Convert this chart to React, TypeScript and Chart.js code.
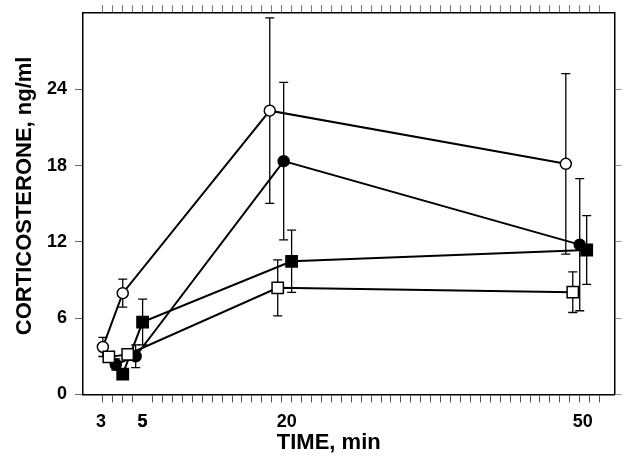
import React, { useEffect, useRef } from 'react';
import { Chart, registerables } from 'chart.js';

Chart.register(...registerables);

// time (min) of each plotted point, as placed in the figure (series are staggered)
const timeOpenCircle = [2.0, 4.0, 18.8, 48.6];
const openCircle = [3.74, 7.97, 22.33, 18.15];
const openCircleErr = [0.75, 1.1, 7.3, 7.1];

const timeFilledCircle = [3.3, 5.3, 20.2, 50.0];
const filledCircle = [2.36, 3.01, 18.36, 11.79];
const filledCircleErr = [0.45, 0.9, 6.2, 5.2];

const timeFilledSquare = [4.0, 6.0, 21.0, 50.7];
const filledSquare = [1.6, 5.7, 10.48, 11.37];
const filledSquareErr = [0.35, 1.8, 2.45, 2.7];

const timeOpenSquare = [2.6, 4.5, 19.6, 49.3];
const openSquare = [2.96, 3.15, 8.39, 8.05];
const openSquareErr = [0.4, 0.45, 2.2, 1.6];

const xTickPositions = [1.8, 6.0, 20.5, 50.3];
const xTickLabels = ['3', '5', '20', '50'];
const xMinorTicks = Array.from({ length: 51 }, (_, i) => i + 2);
const yTicks = [0, 6, 12, 18, 24];

const xTitle = 'TIME, min';
const yTitle = 'CORTICOSTERONE, ng/ml';

const FONT = '"Liberation Sans", Arial, Helvetica, sans-serif';

const pts = (xs: number[], ys: number[]) => xs.map((x, i) => ({ x, y: ys[i] }));

const errorBars = {
  id: 'errorBars',
  beforeDatasetsDraw(chart: any) {
    const ctx = chart.ctx;
    const yScale = chart.scales.y;
    ctx.save();
    ctx.strokeStyle = '#000';
    ctx.lineWidth = 1.3;
    chart.data.datasets.forEach((ds: any, di: number) => {
      const meta = chart.getDatasetMeta(di);
      (ds.errors || []).forEach((e: number, i: number) => {
        const el = meta.data[i];
        if (!el) return;
        const v = ds.data[i].y;
        const x = el.x;
        const yt = yScale.getPixelForValue(v + e);
        const yb = yScale.getPixelForValue(v - e);
        ctx.beginPath();
        ctx.moveTo(x, yt);
        ctx.lineTo(x, yb);
        ctx.moveTo(x - 4.5, yt);
        ctx.lineTo(x + 4.5, yt);
        ctx.moveTo(x - 4.5, yb);
        ctx.lineTo(x + 4.5, yb);
        ctx.stroke();
      });
    });
    ctx.restore();
  },
};

const titles = {
  id: 'axisTitles',
  afterDraw(chart: any) {
    const ctx = chart.ctx;
    const a = chart.chartArea;
    ctx.save();
    ctx.fillStyle = '#000';
    ctx.font = `bold 22px ${FONT}`;
    ctx.textAlign = 'center';
    ctx.textBaseline = 'middle';
    ctx.fillText(xTitle, (a.left + a.right) / 2 - 20, 443);
    ctx.translate(25, (a.top + a.bottom) / 2 - 8);
    ctx.rotate(-Math.PI / 2);
    ctx.fillText(yTitle, 0, 0);
    ctx.restore();
  },
};

const noPad = (s: any) => {
  s.paddingTop = 0;
  s.paddingBottom = 0;
  s.paddingLeft = 0;
  s.paddingRight = 0;
};

export default function App() {
  const ref = useRef<HTMLCanvasElement>(null);
  useEffect(() => {
    if (!ref.current) return;
    const line = (data: any, errors: number[], style: string, radius: number, fill: string) => ({
      data,
      errors,
      borderColor: '#000',
      borderWidth: 2,
      pointStyle: style,
      pointRadius: radius,
      pointBorderWidth: 1.5,
      pointBackgroundColor: fill,
      pointBorderColor: '#000',
      fill: false,
      tension: 0,
      xAxisID: 'x',
      yAxisID: 'y',
    });
    const chart = new Chart(ref.current, {
      type: 'line',
      data: {
        datasets: [
          line(pts(timeOpenSquare, openSquare), openSquareErr, 'rect', 8, '#fff'),
          line(pts(timeFilledSquare, filledSquare), filledSquareErr, 'rect', 8, '#000'),
          line(pts(timeFilledCircle, filledCircle), filledCircleErr, 'circle', 5.5, '#000'),
          line(pts(timeOpenCircle, openCircle), openCircleErr, 'circle', 5.5, '#fff'),
        ] as any,
      },
      options: {
        animation: false,
        responsive: false,
        layout: { padding: { top: 4, right: 1, left: 0, bottom: 0 } },
        plugins: { legend: { display: false }, tooltip: { enabled: false } },
        scales: {
          x: {
            type: 'linear',
            position: 'bottom',
            min: 0,
            max: 53.5,
            afterBuildTicks: (s: any) => {
              const vals = [...xMinorTicks, ...xTickPositions].sort((a, b) => a - b);
              s.ticks = vals.map((v) => ({ value: v }));
            },
            afterFit: (s: any) => {
              s.height = 61.5;
              noPad(s);
            },
            ticks: {
              autoSkip: false,
              maxRotation: 0,
              minRotation: 0,
              padding: 9,
              color: '#000',
              font: { family: FONT, size: 18, weight: 'bold' },
              callback: (v: any) => {
                const i = xTickPositions.indexOf(v);
                return i >= 0 ? xTickLabels[i] : '';
              },
            },
            grid: {
              drawOnChartArea: false,
              drawTicks: true,
              tickLength: 8,
              tickWidth: 1,
              tickColor: (c: any) =>
                c.tick && xTickPositions.indexOf(c.tick.value) >= 0 ? 'rgba(0,0,0,0)' : '#555',
            },
            border: { display: true, color: '#000', width: 1.5 },
          },
          xTop: {
            type: 'linear',
            position: 'top',
            min: 0,
            max: 53.5,
            afterBuildTicks: (s: any) => {
              s.ticks = xMinorTicks.map((v) => ({ value: v }));
            },
            ticks: {
              autoSkip: false,
              maxRotation: 0,
              minRotation: 0,
              padding: 0,
              font: { size: 1 },
              callback: () => '',
            },
            grid: { drawOnChartArea: false, drawTicks: true, tickLength: 8, tickWidth: 1, tickColor: '#777' },
            border: { display: true, color: '#000', width: 1.5 },
          },
          y: {
            type: 'linear',
            position: 'left',
            min: 0,
            max: 30,
            afterBuildTicks: (s: any) => {
              s.ticks = yTicks.map((v) => ({ value: v }));
            },
            afterFit: (s: any) => {
              s.width = 83;
              noPad(s);
            },
            ticks: {
              padding: 8,
              color: '#000',
              font: { family: FONT, size: 18, weight: 'bold' },
            },
            grid: { drawOnChartArea: false, drawTicks: true, tickLength: 8, tickWidth: 1, tickColor: '#666' },
            border: { display: true, color: '#000', width: 1.5 },
          },
          yRight: {
            type: 'linear',
            position: 'right',
            min: 0,
            max: 30,
            afterBuildTicks: (s: any) => {
              s.ticks = yTicks.map((v) => ({ value: v }));
            },
            afterFit: (s: any) => {
              s.width = 7;
              noPad(s);
            },
            ticks: { display: false },
            grid: { drawOnChartArea: false, drawTicks: true, tickLength: 7, tickWidth: 1, tickColor: '#999' },
            border: { display: true, color: '#000', width: 1.5 },
          },
        },
      } as any,
      plugins: [errorBars, titles],
    });
    return () => chart.destroy();
  }, []);
  return (
    <div style={{ position: 'fixed', left: 0, top: 0, width: 624, height: 456, background: '#fff' }}>
      <canvas ref={ref} width={624} height={456} style={{ display: 'block', width: 624, height: 456 }} />
    </div>
  );
}
